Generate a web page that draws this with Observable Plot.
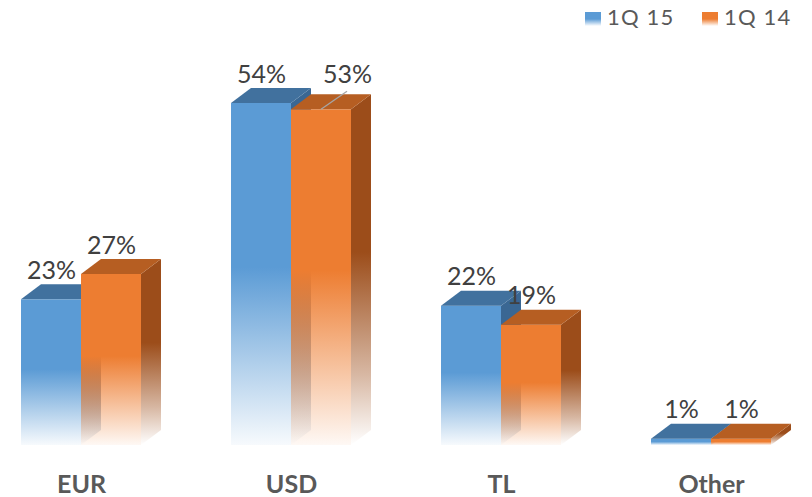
<!DOCTYPE html>
<html>
<head>
<meta charset="utf-8">
<script src="https://cdn.jsdelivr.net/npm/d3@7"></script>
<script src="https://cdn.jsdelivr.net/npm/@observablehq/plot@0.6"></script>
<style>
  body { margin: 0; background: #fff; }
  #wrap { position: relative; width: 812px; height: 497px; font-family: Lato, "Open Sans", sans-serif; }
  .lg-sq { position: absolute; width: 16px; height: 14px; }
  .lg-tx { position: absolute; font-size: 22px; line-height: 26px; color: #595959; letter-spacing: 1.2px; white-space: nowrap; }
  #wrap svg g[aria-label="x-axis tick label"] text { font-weight: bold; }
</style>
</head>
<body>
<div id="wrap"></div>
<script>
// ---- data ----
const categories = ["EUR", "USD", "TL", "Other"];
const series = ["1Q 15", "1Q 14"];
const q115 = [23, 54, 22, 1];
const q114 = [27, 53, 19, 1];

const blueRows = categories.map((c, i) => ({cat: c, series: series[0], value: q115[i]}));
const orangeRows = categories.map((c, i) => ({cat: c, series: series[1], value: q114[i]}));

// ---- styling constants ----
const DX = 20, DY = 15;
const colors = {
  blueFront: "#5B9BD5", blueTop: "#41719E", blueSide: "#3A6793",
  orangeFront: "#ED7D31", orangeTop: "#B65E22", orangeSide: "#9C4D1A"
};

function gradientDefs() {
  const defs = d3.create("svg:defs");
  const mk = (id, color, stops) => {
    const g = defs.append("linearGradient").attr("id", id)
      .attr("x1", 0).attr("y1", 0).attr("x2", 0).attr("y2", 1);
    for (const [o, a] of stops) {
      g.append("stop").attr("offset", o).attr("stop-color", color).attr("stop-opacity", a);
    }
  };
  const front = [[0, 1], [0.48, 1], [0.78, 0.45], [1, 0.05]];
  const side = [[0, 1], [0.45, 1], [0.8, 0.4], [1, 0]];
  mk("gBlue", colors.blueFront, front);
  mk("gOrange", colors.orangeFront, front);
  mk("gBlueSide", colors.blueSide, side);
  mk("gOrangeSide", colors.orangeSide, side);
  return defs.node();
}

function faces(rows, j, sideGrad, topColor) {
  return (index, scales) => {
    const {x, y} = scales;
    const half = x.bandwidth() / 2;
    const g = d3.create("svg:g");
    for (const d of rows) {
      const xL = x(d.cat) + j * half, xR = xL + half;
      const yT = y(d.value), yB = y(0);
      g.append("polygon")
        .attr("points", [[xR, yT], [xR + DX, yT - DY], [xR + DX, yB - DY], [xR, yB]].join(" "))
        .attr("fill", `url(#${sideGrad})`);
      g.append("polygon")
        .attr("points", [[xL, yT], [xL + DX, yT - DY], [xR + DX, yT - DY], [xR, yT]].join(" "))
        .attr("fill", topColor);
    }
    return g.node();
  };
}

function leader(index, scales) {
  const {x, y} = scales;
  const bw = x.bandwidth();
  const d = orangeRows.find(r => r.cat === "USD");
  const x0 = x(d.cat) + bw * 0.75, y0 = y(d.value);
  return d3.create("svg:line")
    .attr("x1", x0).attr("y1", y0).attr("x2", x0 + 26).attr("y2", y0 - 18)
    .attr("stroke", "#A6A6A6").attr("stroke-width", 1.3).node();
}

const labelStyle = {fontSize: 25, fill: "#404040", lineAnchor: "bottom", text: d => d.value + "%"};

const chart = Plot.plot({
  width: 812,
  height: 497,
  marginTop: 0,
  marginBottom: 52,
  marginLeft: 0,
  marginRight: 0,
  style: {fontFamily: "Lato, 'Open Sans', sans-serif", background: "transparent"},
  x: {domain: categories, range: [21, 771], paddingInner: 0.4286, paddingOuter: 0, align: 0.5, label: null},
  y: {domain: [0, 60], range: [445, 65], axis: null},
  marks: [
    gradientDefs,
    Plot.barY(blueRows, {x: "cat", y: "value", fill: "url(#gBlue)", insetRight: 60}),
    faces(blueRows, 0, "gBlueSide", colors.blueTop),
    Plot.barY(orangeRows, {x: "cat", y: "value", fill: "url(#gOrange)", insetLeft: 60}),
    faces(orangeRows, 1, "gOrangeSide", colors.orangeTop),
    leader,
    Plot.text(blueRows, {...labelStyle, x: "cat", y: "value", dx: -30, dy: -21}),
    Plot.text(orangeRows.filter(d => d.cat !== "USD"), {...labelStyle, x: "cat", y: "value", dx: 30, dy: -21}),
    Plot.text(orangeRows.filter(d => d.cat === "USD"), {...labelStyle, x: "cat", y: "value", dx: 56, dy: -27}),
    Plot.axisX({tickSize: 0, tickPadding: 30, fontSize: 25, fontWeight: "bold", color: "#595959", label: null})
  ]
});

const wrap = document.getElementById("wrap");
wrap.appendChild(chart);

// legend (overlaid at the top right)
const legendItems = [
  {name: series[0], color: colors.blueFront, sq: 585, tx: 607},
  {name: series[1], color: colors.orangeFront, sq: 702, tx: 724}
];
for (const it of legendItems) {
  const sq = document.createElement("div");
  sq.className = "lg-sq";
  sq.style.left = it.sq + "px";
  sq.style.top = "12px";
  sq.style.background = `linear-gradient(to bottom, ${it.color} 0%, ${it.color} 50%, rgba(255,255,255,0.9) 100%)`;
  wrap.appendChild(sq);
  const tx = document.createElement("div");
  tx.className = "lg-tx";
  tx.style.left = it.tx + "px";
  tx.style.top = "4px";
  tx.textContent = it.name;
  wrap.appendChild(tx);
}
</script>
</body>
</html>
